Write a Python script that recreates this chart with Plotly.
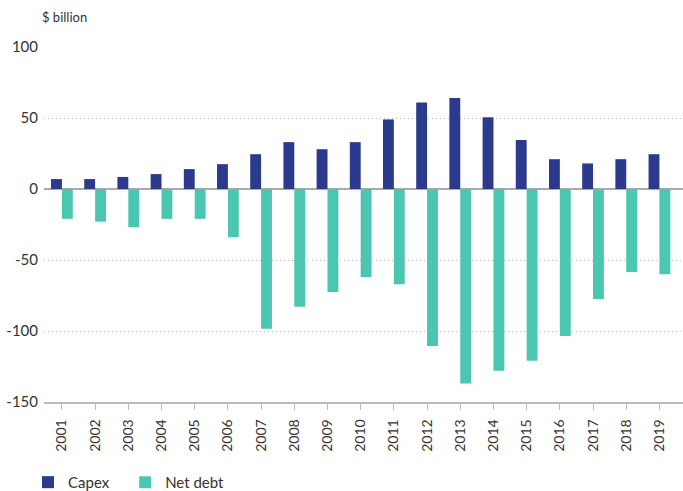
import plotly.graph_objects as go

years = [str(y) for y in range(2001, 2020)]
capex = [7, 7, 8.5, 10.5, 14, 17.5, 24.5, 33, 28, 33, 49, 61, 64, 50.5, 34.5, 21, 18, 21, 24.5]
net_debt = [-21, -23, -27, -21, -21, -34, -98.5, -83, -72.5, -62, -67, -110.5, -137, -128, -121, -103.5, -77.5, -58.5, -60]
y_ticks = [100, 50, 0, -50, -100, -150]
y_tick_labels = ["100", "50", "0", "-50", "-100", "-150"]

font_family = "Lato, 'Noto Sans', sans-serif"

fig = go.Figure()
fig.add_trace(go.Bar(x=years, y=capex, name="Capex", marker_color="#2B3A8C",
                     marker_line_width=0, legend="legend"))
fig.add_trace(go.Bar(x=years, y=net_debt, name="Net debt", marker_color="#4BC6B1",
                     marker_line_width=0, legend="legend2"))

legend_style = dict(orientation="h", y=-0.18, xanchor="left", yanchor="top",
                    font=dict(size=15, color="#333333"), itemwidth=30,
                    bgcolor="rgba(0,0,0,0)")

fig.update_layout(
    width=683, height=491,
    margin=dict(l=44, r=0, t=47, b=89, autoexpand=False),
    paper_bgcolor="white", plot_bgcolor="white",
    barmode="group", bargap=0.345, bargroupgap=0,
    font=dict(family=font_family, color="#333333", size=14),
    showlegend=True,
    legend=dict(x=-0.025, **legend_style),
    legend2=dict(x=0.127, **legend_style),
    annotations=[dict(text="$ billion", xref="paper", yref="paper", x=-0.007, y=1.085,
                      xanchor="left", yanchor="middle", showarrow=False,
                      font=dict(size=13, color="#333333"))],
)
fig.update_xaxes(
    type="category", range=[-0.54, 18.71], tickangle=-90, showline=True,
    linecolor="#BBBBBB", linewidth=1.5,
    ticks="outside", ticklen=6, tickcolor="#BBBBBB", tickwidth=1,
    showgrid=False, tickfont=dict(size=14, color="#333333"), ticklabelstandoff=4,
)
fig.update_yaxes(
    range=[-150, 100], tickvals=y_ticks, ticktext=y_tick_labels,
    showgrid=True, gridcolor="#BBBBBB", griddash="1px,3px", gridwidth=1,
    zeroline=True, zerolinecolor="#AAAAAA", zerolinewidth=1.5,
    ticks="", tickfont=dict(size=15, color="#333333"), ticklabelstandoff=5,
)

fig.write_html("out.html", config={"displayModeBar": False},
               post_script="document.body.style.margin='0';")
